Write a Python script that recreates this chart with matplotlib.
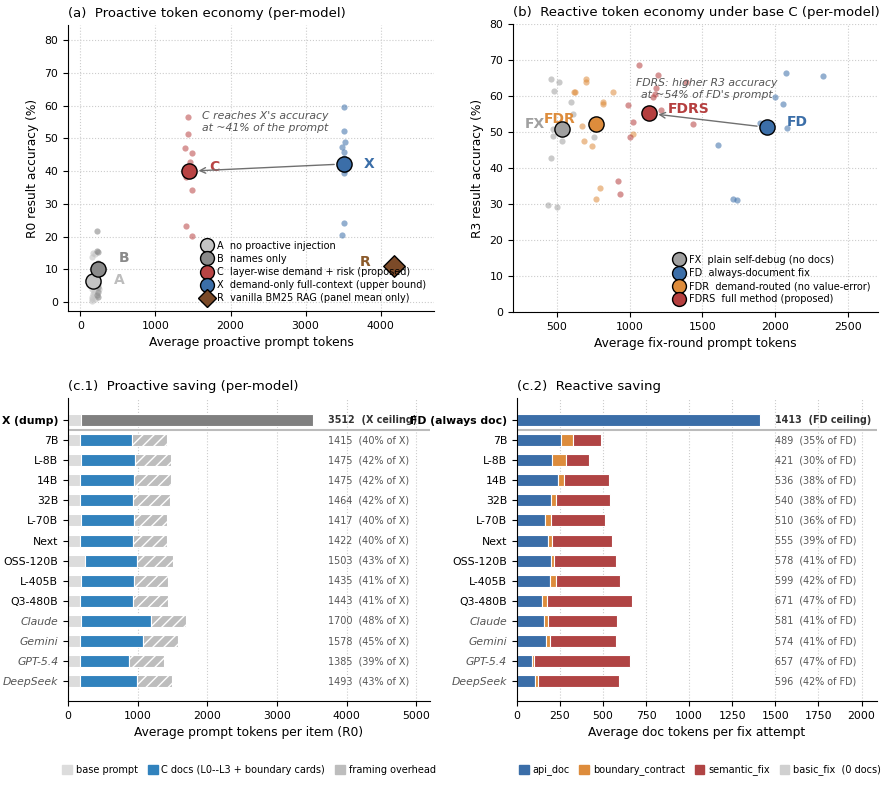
import matplotlib
matplotlib.use("Agg")
import matplotlib.pyplot as plt
import numpy as np
from matplotlib.lines import Line2D
from matplotlib.patches import Patch

plt.rcParams['font.family'] = ['DejaVu Sans']

# ---------------- Panel (a) data ----------------
A_x = [168, 150, 155, 250, 160, 155, 170, 180, 175, 190, 165, 200, 160]
A_y = [15.1, 13.8, 4.1, 4.1, 0.8, 1.5, 6.0, 5.0, 3.0, 14.8, 2.5, 1.0, 0.3]
B_x = [226, 226, 230, 233, 240, 230, 220, 235, 240, 228, 225, 232, 236]
B_y = [21.6, 15.6, 15.3, 1.5, 4.6, 9.5, 11.0, 10.2, 8.8, 5.5, 2.0, 12.0, 3.2]
C_x = [1435, 1430, 1396, 1493, 1457, 1410, 1480, 1410, 1480, 1440, 1460, 1420, 1450]
C_y = [56.6, 51.5, 47.2, 45.7, 42.8, 38.3, 34.2, 23.2, 20.2, 40.5, 39.0, 41.2, 40.0]
X_x = [3510, 3510, 3530, 3490, 3510, 3510, 3510, 3490, 3505, 3515, 3500, 3520, 3510]
X_y = [59.5, 52.2, 48.9, 47.5, 46.0, 39.3, 24.2, 20.4, 42.5, 41.5, 43.0, 40.5, 44.0]
means_a = {'A': (168, 6.4), 'B': (235, 10.0), 'C': (1444, 40.0), 'X': (3510, 42.2)}
R_mean = (4181, 11.0)

# ---------------- Panel (b) data ----------------
FX_x = [464, 516, 481, 596, 610, 474, 474, 539, 754, 461, 438, 500, 530]
FX_y = [64.8, 63.8, 61.3, 58.4, 55.1, 50.8, 49.0, 47.4, 48.7, 42.7, 29.6, 29.1, 51.0]
FDR_x = [704, 699, 617, 628, 885, 821, 821, 674, 1027, 686, 743, 798, 773]
FDR_y = [64.7, 63.8, 61.2, 61.2, 61.1, 58.2, 57.9, 51.6, 49.4, 47.4, 46.2, 34.5, 31.4]
FDRS_x = [1062, 1195, 1385, 1181, 1172, 1160, 990, 1217, 1438, 1025, 1002, 920, 935]
FDRS_y = [68.7, 65.9, 63.8, 62.1, 60.5, 59.7, 57.6, 56.0, 52.1, 52.9, 48.7, 36.4, 32.9]
FD_x = [2073, 2325, 2001, 2052, 1896, 2084, 1609, 1713, 1738, 1930, 1960, 1950, 1915]
FD_y = [66.5, 65.5, 59.8, 57.9, 52.4, 51.0, 46.5, 31.4, 31.1, 52.0, 50.5, 51.5, 51.8]
means_b = {'FX': (534, 50.9), 'FDR': (768, 52.3), 'FDRS': (1131, 55.2), 'FD': (1942, 51.3)}

# ---------------- Panel (c) data ----------------
models = ['7B', 'L-8B', '14B', '32B', 'L-70B', 'Next', 'OSS-120B', 'L-405B',
          'Q3-480B', 'Claude', 'Gemini', 'GPT-5.4', 'DeepSeek']
commercial = ['Claude', 'Gemini', 'GPT-5.4', 'DeepSeek']
base_prompt = [175, 190, 175, 175, 190, 175, 240, 190, 175, 180, 175, 175, 170]
c_docs = [750, 770, 770, 760, 755, 755, 757, 760, 760, 1018, 905, 707, 822]
c_total = [1415, 1475, 1475, 1464, 1417, 1422, 1503, 1435, 1443, 1700, 1578, 1385, 1493]
c_pct = [40, 42, 42, 42, 40, 40, 43, 41, 41, 48, 45, 39, 43]
x_dump_total = 3512
x_dump_base = 180

api_doc = [257, 205, 241, 201, 162, 184, 201, 193, 149, 156, 172, 89, 106]
boundary = [71, 81, 35, 29, 35, 23, 13, 37, 29, 26, 23, 10, 20]
r_total = [489, 421, 536, 540, 510, 555, 578, 599, 671, 581, 574, 657, 596]
r_pct = [35, 30, 38, 38, 36, 39, 41, 42, 47, 41, 41, 47, 42]
fd_total = 1413

# colours
col_A, col_B, col_C, col_X, col_R = '#c4c4c4', '#8a8a8a', '#b94444', '#3b6ea8', '#7b4a28'
col_FX, col_FD, col_FDR, col_FDRS = '#a0a0a0', '#3b6ea8', '#dd8c3c', '#b53f3f'

TICK = 7.8
LAB = 8.8
TTL = 9.5
LEG = 7.0
BAR_TXT = 6.9
MARK_TXT = 10

W, H = 890, 808
fig = plt.figure(figsize=(W / 100, H / 100), dpi=100)


def ax_at(l, t, r, b):
    return fig.add_axes([l / W, 1 - b / H, (r - l) / W, (b - t) / H])


axa = ax_at(68, 25, 434, 311)
axb = ax_at(513, 24, 878, 312)
axc1 = ax_at(68, 398, 430, 701)
axc2 = ax_at(516.7, 398, 877.3, 701)

for ax in (axa, axb, axc1, axc2):
    ax.spines['top'].set_visible(False)
    ax.spines['right'].set_visible(False)
    ax.tick_params(labelsize=TICK, length=3.5)

small_s = 20
big_s = 120

# ---------------- Panel (a) ----------------
axa.grid(True, ls=':', color='#cccccc', lw=0.8)
axa.set_axisbelow(True)
axa.scatter(A_x, A_y, s=small_s, color=col_A, alpha=0.6, lw=0)
axa.scatter(B_x, B_y, s=small_s, color=col_B, alpha=0.6, lw=0)
axa.scatter(C_x, C_y, s=small_s, color=col_C, alpha=0.55, lw=0)
axa.scatter(X_x, X_y, s=small_s, color=col_X, alpha=0.55, lw=0)
for k, c in zip(['A', 'B', 'C', 'X'], [col_A, col_B, col_C, col_X]):
    axa.scatter(*means_a[k], s=big_s, color=c, edgecolor='black', lw=1, zorder=5)
axa.scatter(*R_mean, s=120, marker='D', color=col_R, edgecolor='black', lw=1, zorder=5)
axa.text(1780, 41.2, 'C', color=col_C, fontsize=MARK_TXT, fontweight='bold', ha='center', va='center')
axa.text(3851, 42.2, 'X', color=col_X, fontsize=MARK_TXT, fontweight='bold', ha='center', va='center')
axa.text(580, 13.5, 'B', color='#8a8a8a', fontsize=MARK_TXT, fontweight='bold', ha='center', va='center')
axa.text(518, 6.7, 'A', color='#bdbdbd', fontsize=MARK_TXT, fontweight='bold', ha='center', va='center')
axa.text(3788, 12.2, 'R', color='#8b5a2b', fontsize=MARK_TXT, fontweight='bold', ha='center', va='center')
axa.annotate('', xy=means_a['C'], xytext=means_a['X'],
             arrowprops=dict(arrowstyle='->', color='#707070', lw=1, shrinkA=7, shrinkB=7))
axa.text(2457, 55.1, "C reaches X's accuracy\nat ~41% of the prompt", fontsize=7.8,
         style='italic', color='#555555', ha='center', va='center')
axa.set_xlim(-165, 4710)
axa.set_ylim(-2.75, 84.7)
axa.set_xticks([0, 1000, 2000, 3000, 4000])
axa.set_yticks(range(0, 81, 10))
axa.set_xlabel('Average proactive prompt tokens', fontsize=LAB)
axa.set_ylabel('R0 result accuracy (%)', fontsize=LAB)
axa.set_title('(a)  Proactive token economy (per-model)', loc='left', fontsize=TTL)
hA = [
    Line2D([], [], ls='', marker='o', ms=10, mfc=col_A, mec='black', mew=1),
    Line2D([], [], ls='', marker='o', ms=10, mfc=col_B, mec='black', mew=1),
    Line2D([], [], ls='', marker='o', ms=10, mfc=col_C, mec='black', mew=1),
    Line2D([], [], ls='', marker='o', ms=10, mfc=col_X, mec='black', mew=1),
    Line2D([], [], ls='', marker='D', ms=9, mfc=col_R, mec='black', mew=1),
]
lA = ['A  no proactive injection', 'B  names only', 'C  layer-wise demand + risk (proposed)',
      'X  demand-only full-context (upper bound)', 'R  vanilla BM25 RAG (panel mean only)']
axa.legend(hA, lA, loc='lower right', fontsize=LEG, frameon=False, labelspacing=0.32,
           handletextpad=0.4, borderaxespad=0.4, handlelength=1.2)

# ---------------- Panel (b) ----------------
axb.grid(True, ls=':', color='#cccccc', lw=0.8)
axb.set_axisbelow(True)
axb.scatter(FX_x, FX_y, s=small_s, color=col_FX, alpha=0.55, lw=0)
axb.scatter(FDR_x, FDR_y, s=small_s, color=col_FDR, alpha=0.55, lw=0)
axb.scatter(FDRS_x, FDRS_y, s=small_s, color=col_FDRS, alpha=0.55, lw=0)
axb.scatter(FD_x, FD_y, s=small_s, color=col_FD, alpha=0.55, lw=0)
for k, c in zip(['FX', 'FDR', 'FDRS', 'FD'], [col_FX, col_FDR, col_FDRS, col_FD]):
    axb.scatter(*means_b[k], s=big_s, color=c, edgecolor='black', lw=1, zorder=5)
axb.text(349, 52.1, 'FX', color='#a0a0a0', fontsize=MARK_TXT, fontweight='bold', ha='center', va='center')
axb.text(523, 53.6, 'FDR', color=col_FDR, fontsize=MARK_TXT, fontweight='bold', ha='center', va='center')
axb.text(1408, 56.3, 'FDRS', color=col_FDRS, fontsize=MARK_TXT, fontweight='bold', ha='center', va='center')
axb.text(2153, 52.7, 'FD', color=col_FD, fontsize=MARK_TXT, fontweight='bold', ha='center', va='center')
axb.annotate('', xy=means_b['FDRS'], xytext=means_b['FD'],
             arrowprops=dict(arrowstyle='->', color='#707070', lw=1, shrinkA=7, shrinkB=7))
axb.text(1530, 61.9, "FDRS: higher R3 accuracy\nat ~54% of FD's prompt", fontsize=7.8,
         style='italic', color='#555555', ha='center', va='center')
axb.set_xlim(200, 2706)
axb.set_ylim(0, 80)
axb.set_xticks([500, 1000, 1500, 2000, 2500])
axb.set_yticks(range(0, 81, 10))
axb.set_xlabel('Average fix-round prompt tokens', fontsize=LAB)
axb.set_ylabel('R3 result accuracy (%)', fontsize=LAB)
axb.set_title('(b)  Reactive token economy under base C (per-model)', loc='left', fontsize=TTL)
hB = [Line2D([], [], ls='', marker='o', ms=10, mfc=c, mec='black', mew=1)
      for c in (col_FX, col_FD, col_FDR, col_FDRS)]
lB = ['FX  plain self-debug (no docs)', 'FD  always-document fix',
      'FDR  demand-routed (no value-error)', 'FDRS  full method (proposed)']
axb.legend(hB, lB, loc='lower right', fontsize=LEG, frameon=False, labelspacing=0.32,
           handletextpad=0.4, borderaxespad=0.4, handlelength=1.2)

# ---------------- Panel (c.1) ----------------
col_base, col_cdoc, col_frame, col_dump = '#dcdcdc', '#3182bd', '#bdbdbd', '#808080'
bh = 0.6
ypos = np.arange(1, len(models) + 1)
axc1.grid(True, axis='x', ls=':', color='#cccccc', lw=0.8)
axc1.set_axisbelow(True)
axc1.barh(0, x_dump_base, height=bh, color=col_base, edgecolor='white', lw=0.8)
axc1.barh(0, x_dump_total - x_dump_base, left=x_dump_base, height=bh, color=col_dump,
          edgecolor='white', lw=0.8)
base_arr = np.array(base_prompt)
docs_arr = np.array(c_docs)
frame_arr = np.array(c_total) - base_arr - docs_arr
axc1.barh(ypos, base_arr, height=bh, color=col_base, edgecolor='white', lw=0.8)
axc1.barh(ypos, docs_arr, left=base_arr, height=bh, color=col_cdoc, edgecolor='white', lw=0.8)
axc1.barh(ypos, frame_arr, left=base_arr + docs_arr, height=bh, color=col_frame,
          edgecolor='white', lw=0.8, hatch='///')
axc1.axhline(0.5, color='#bbbbbb', lw=1.5)
axc1.text(x_dump_total * 1.062, 0, f'{x_dump_total}  (X ceiling)', fontsize=BAR_TXT,
          fontweight='bold', color='#333333', va='center')
for y, t, p in zip(ypos, c_total, c_pct):
    axc1.text(x_dump_total * 1.062, y, f'{t}  ({p}% of X)',
              fontsize=BAR_TXT, color='#555555', va='center')
axc1.set_xlim(0, x_dump_total * 1.48)
axc1.set_ylim(13.98, -1.09)
axc1.set_yticks([0] + list(ypos))
axc1.set_yticklabels(['X (dump)'] + models)
axc1.set_xlabel('Average prompt tokens per item (R0)', fontsize=LAB)
axc1.set_title('(c.1)  Proactive saving (per-model)', loc='left', fontsize=TTL)

# ---------------- Panel (c.2) ----------------
col_api, col_bnd, col_sem, col_basic = '#3b6ea8', '#dd8c3c', '#b04444', '#d0d0d0'
axc2.grid(True, axis='x', ls=':', color='#cccccc', lw=0.8)
axc2.set_axisbelow(True)
axc2.barh(0, fd_total, height=bh, color=col_api, edgecolor='white', lw=0.8)
api_arr = np.array(api_doc)
bnd_arr = np.array(boundary)
sem_arr = np.array(r_total) - api_arr - bnd_arr
axc2.barh(ypos, api_arr, height=bh, color=col_api, edgecolor='white', lw=0.8)
axc2.barh(ypos, bnd_arr, left=api_arr, height=bh, color=col_bnd, edgecolor='white', lw=0.8)
axc2.barh(ypos, sem_arr, left=api_arr + bnd_arr, height=bh, color=col_sem, edgecolor='white', lw=0.8)
axc2.axhline(0.5, color='#bbbbbb', lw=1.5)
axc2.text(fd_total * 1.06, 0, f'{fd_total}  (FD ceiling)', fontsize=BAR_TXT,
          fontweight='bold', color='#333333', va='center')
for y, t, p in zip(ypos, r_total, r_pct):
    axc2.text(fd_total * 1.06, y, f'{t}  ({p}% of FD)',
              fontsize=BAR_TXT, color='#555555', va='center')
axc2.set_xlim(0, fd_total * 1.48)
axc2.set_ylim(13.98, -1.09)
axc2.set_xticks(range(0, 2001, 250))
axc2.set_yticks([0] + list(ypos))
axc2.set_yticklabels(['FD (always doc)'] + models)
axc2.set_xlabel('Average doc tokens per fix attempt', fontsize=LAB)
axc2.set_title('(c.2)  Reactive saving', loc='left', fontsize=TTL)

for ax in (axc1, axc2):
    labs = ax.get_yticklabels()
    labs[0].set_fontweight('bold')
    for lab in labs[1:]:
        if lab.get_text() in commercial:
            lab.set_style('italic')
            lab.set_color('#555555')

# bottom legends
h1 = [Patch(color=col_base), Patch(color=col_cdoc), Patch(color=col_frame)]
l1 = ['base prompt', 'C docs (L0--L3 + boundary cards)', 'framing overhead']
fig.legend(h1, l1, loc='center', bbox_to_anchor=(249 / W, 1 - 770 / H), ncol=3,
           frameon=False, fontsize=LEG, handlelength=1.0, handleheight=1.0,
           handletextpad=0.4, columnspacing=1.0)
h2 = [Patch(color=col_api), Patch(color=col_bnd), Patch(color=col_sem), Patch(color=col_basic)]
l2 = ['api_doc', 'boundary_contract', 'semantic_fix', 'basic_fix  (0 docs)']
fig.legend(h2, l2, loc='center', bbox_to_anchor=(700 / W, 1 - 770 / H), ncol=4,
           frameon=False, fontsize=LEG, handlelength=1.0, handleheight=1.0,
           handletextpad=0.4, columnspacing=1.0)

fig.savefig('out.png', dpi=100)
